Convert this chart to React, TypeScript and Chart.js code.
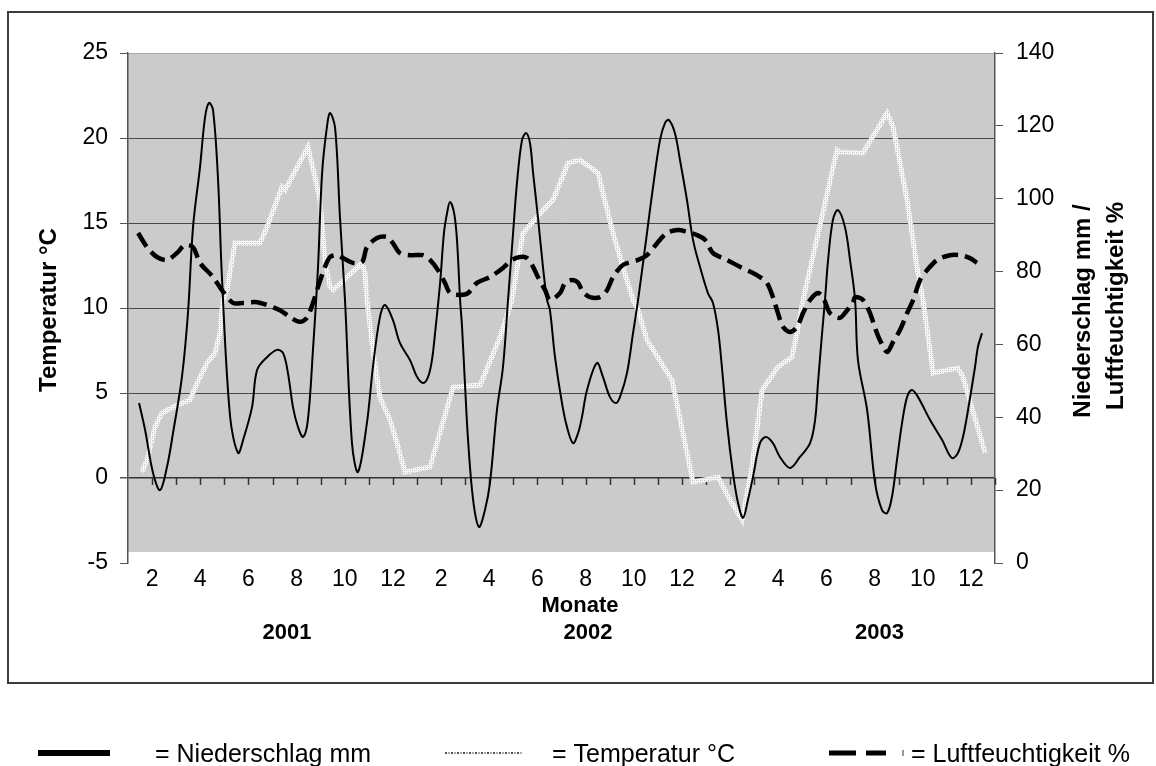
import React, { useEffect, useRef } from "react";
import { Chart, registerables } from "chart.js";

Chart.register(...registerables);

// Zeitachse in Monaten ab Januar 2001 (0 = Jahresbeginn 2001, 36 = Ende 2003)
const niederschlagMonat = [
  0.46, 0.71, 1.04, 1.33, 1.62, 1.87, 2.24, 2.49, 2.7, 2.99, 3.2, 3.36, 3.53, 3.74, 3.9, 4.24, 4.57, 4.78,
  5.15, 5.36, 5.77, 6.19, 6.44, 6.64, 6.85, 7.06, 7.27, 7.47, 7.68, 7.89, 8.06, 8.26, 8.39, 8.6, 8.8, 9.01,
  9.3, 9.55, 9.92, 10.17, 10.46, 10.67, 11.0, 11.29, 11.71, 12.0, 12.25, 12.46, 12.62, 12.75, 12.96, 13.12,
  13.25, 13.37, 13.54, 13.66, 13.79, 13.87, 13.99, 14.12, 14.33, 14.57, 14.82, 15.03, 15.32, 15.57, 15.78,
  15.99, 16.15, 16.36, 16.53, 16.69, 16.82, 17.02, 17.23, 17.4, 17.52, 17.73, 18.02, 18.23, 18.48, 18.69,
  18.85, 19.06, 19.47, 19.72, 20.01, 20.26, 20.43, 20.72, 20.97, 21.18, 21.55, 21.8, 22.09, 22.3, 22.46,
  22.71, 22.92, 23.21, 23.46, 23.75, 24.08, 24.29, 24.5, 24.66, 24.87, 25.12, 25.33, 25.54, 25.74, 25.95,
  26.24, 26.49, 26.78, 27.07, 27.49, 27.9, 28.32, 28.53, 28.65, 28.82, 28.94, 29.07, 29.27, 29.48, 29.77,
  29.98, 30.19, 30.31, 30.69, 31.02, 31.31, 31.52, 31.72, 31.93, 32.14, 32.35, 32.55, 32.8, 33.3, 33.8,
  34.21, 34.46, 34.67, 34.88, 35.17, 35.29, 35.46,
];
const niederschlagMm = [
  43.9, 36.5, 24.7, 20.0, 26.4, 35.7, 51.1, 68.6, 92.2, 108.7, 122.4, 126.3, 124.4, 105.1, 78.5, 40.1, 30.2, 33.8,
  42.8, 53.0, 56.5, 58.5, 57.6, 52.2, 42.8, 37.3, 34.6, 39.3, 58.5, 81.3, 107.1, 119.7, 123.5, 119.4, 95.0, 72.2,
  32.9, 25.0, 38.4, 53.8, 67.5, 70.8, 66.7, 60.4, 55.7, 51.1, 49.4, 51.1, 55.7, 63.1, 76.9, 90.6,
  96.1, 99.1, 96.1, 88.7, 72.2, 64.8, 49.4, 33.8, 17.3, 9.9, 14.5, 22.0, 42.0, 53.8, 72.2,
  90.6, 104.3, 116.1, 118.0, 115.3, 107.1, 95.0, 81.3, 72.2, 69.4, 56.5, 43.9, 37.3, 32.9, 35.7,
  40.1, 47.5, 54.9, 51.1, 45.6, 43.9, 45.6, 52.2, 63.1, 72.2, 90.6, 103.2, 116.1, 120.8, 121.6,
  118.0, 110.6, 99.6, 88.7, 81.3, 74.1, 71.4, 64.0, 53.8, 38.4, 24.7, 16.5, 12.4, 17.3, 23.6,
  32.9, 34.6, 32.9, 29.1, 26.1, 29.1, 32.9, 39.3, 49.4, 63.1, 72.2, 83.2, 94.2, 96.9, 92.2,
  83.2, 72.2, 55.7, 42.0, 22.0, 14.5, 13.7, 18.1, 28.3, 38.4, 45.6, 47.5, 45.6, 39.3, 33.8,
  28.8, 30.2, 34.6, 42.0, 53.8, 59.3, 63.1,
];

const temperaturMonat = [
  0.58, 0.79, 1.12, 1.41, 1.87, 2.57, 2.87, 3.28, 3.61, 3.82, 3.94, 4.11, 4.44, 5.48, 5.77, 6.39, 6.52, 7.47,
  7.76, 7.97, 8.18, 8.39, 8.51, 9.09, 9.72, 9.84, 9.92, 10.17, 10.46, 10.88, 11.17, 11.5, 12.54, 13.5, 14.62,
  15.45, 15.94, 16.28, 16.4, 16.98, 17.52, 17.65, 18.27, 18.77, 19.52, 19.72, 20.14, 20.55, 20.97, 21.18,
  21.55, 22.59, 23.46, 24.5, 25.0, 25.5, 25.91, 26.33, 26.99, 27.57, 27.78, 28.03, 29.44, 29.56, 30.52,
  31.52, 31.77, 32.35, 32.76, 33.01, 33.43, 34.46, 34.67, 35.59,
];
const temperaturC = [
  0.35, 1.06, 3.0, 3.82, 4.18, 4.59, 5.59, 6.76, 7.35, 8.53, 10.47, 11.06, 13.82, 13.82, 14.76, 17.12, 16.94, 19.47,
  17.71, 16.35, 12.82, 11.24, 11.06, 11.82, 12.65, 12.06, 10.47, 7.53, 4.76, 3.41, 2.06, 0.35, 0.65, 5.35, 5.47,
  8.29, 10.47, 13.41, 14.41, 15.35, 16.18, 16.35, 18.53, 18.71, 17.94, 16.76, 14.41, 12.41, 10.47, 9.88,
  8.12, 5.76, -0.24, 0.06, -1.29, -2.47, 0.65, 5.18, 6.53, 7.12, 8.53, 10.47, 19.29, 19.18, 19.12,
  21.47, 20.65, 16.35, 12.41, 10.47, 6.18, 6.47, 5.94, 1.47,
];

const feuchteMonat = [
  0.42, 0.79, 1.2, 1.62, 2.03, 2.37, 2.7, 2.99, 3.53, 3.9, 4.36, 4.78, 5.36, 5.77, 6.31, 6.73, 7.14, 7.43,
  7.68, 7.89, 8.18, 8.39, 8.68, 8.93, 9.34, 9.72, 9.92, 10.34, 10.75, 11.0, 11.29, 11.71, 12.25, 12.54, 12.87,
  13.16, 13.37, 13.79, 14.12, 14.49, 15.03, 15.57, 15.94, 16.28, 16.57, 16.82, 17.02, 17.32, 17.52, 17.94,
  18.15, 18.44, 18.69, 18.89, 19.18, 19.6, 19.89, 20.14, 20.55, 21.18, 21.55, 21.97, 22.38, 22.84, 23.21,
  23.63, 23.96, 24.29, 24.87, 25.41, 25.95, 26.24, 26.53, 26.78, 26.95, 27.2, 27.49, 27.78, 28.03, 28.32,
  28.65, 28.86, 29.15, 29.56, 29.86, 30.1, 30.19, 30.52, 30.81, 31.02, 31.22, 31.52, 31.77, 32.06, 32.35,
  32.6, 32.89, 33.18, 33.6, 34.13, 34.55, 34.96, 35.25,
];
const feuchteProzent = [
  90.6, 86.7, 84.0, 83.2, 85.1, 87.3, 86.7, 82.4, 78.5, 74.9, 71.4, 71.4, 71.6, 70.8, 69.4, 67.5, 66.2, 67.3,
  71.4, 75.8, 81.3, 84.0, 84.5, 83.7, 82.4, 82.6, 86.7, 89.2, 89.5, 87.8, 85.1, 84.5, 84.5, 83.2, 80.4,
  76.9, 74.1, 73.6, 74.1, 76.9, 78.5, 81.0, 83.2, 84.0, 83.7, 81.3, 78.5, 74.9, 72.2, 74.1,
  76.9, 77.7, 76.9, 74.4, 73.0, 73.0, 74.9, 78.5, 81.8, 83.2, 84.5, 87.8, 90.6, 91.4, 90.9,
  90.0, 88.7, 85.1, 83.2, 81.3, 79.6, 78.5, 76.9, 73.0, 69.4, 64.8, 63.4, 64.8, 68.6, 72.2,
  74.1, 73.0, 68.6, 67.3, 69.4, 71.4, 73.0, 72.2, 68.6, 64.5, 61.2, 57.9, 60.7, 64.0, 68.6,
  72.2, 77.7, 80.4, 83.2, 84.5, 84.5, 83.7, 82.4,
];

// Achsenbereiche und Beschriftungen
const temperaturAchse = { min: -5, max: 25, step: 5 };
const rechteAchse = { min: 0, max: 140, step: 20 };
const monateGesamt = 36;
const jahre = ["2001", "2002", "2003"];
const jahrMitteMonat = [6.6, 19.1, 31.2];

const titelLinks = "Temperatur °C";
const titelRechts = ["Niederschlag mm /", "Luftfeuchtigkeit %"];
const titelX = "Monate";
const legende = ["= Niederschlag mm", "= Temperatur °C", "= Luftfeuchtigkeit %"];

const FONT = "'Liberation Sans', Arial, sans-serif";

const toPoints = (xs: number[], ys: number[]) => xs.map((x, i) => ({ x, y: ys[i] }));

function makeDottedPattern(ctx: CanvasRenderingContext2D) {
  const pc = document.createElement("canvas");
  pc.width = 4;
  pc.height = 4;
  const g = pc.getContext("2d")!;
  g.fillStyle = "#f6f6f6";
  g.fillRect(0, 0, 4, 4);
  g.fillStyle = "#bdbdbd";
  g.fillRect(0, 0, 1, 1);
  g.fillRect(2, 2, 1, 1);
  g.fillStyle = "#dcdcdc";
  g.fillRect(2, 0, 1, 1);
  g.fillRect(0, 2, 1, 1);
  return ctx.createPattern(pc, "repeat")!;
}

const decorPlugin = {
  id: "decor",
  beforeDraw(chart: any) {
    const { ctx, chartArea: a } = chart;
    ctx.save();
    ctx.fillStyle = "#ffffff";
    ctx.fillRect(0, 0, chart.width, chart.height);
    // grauer Hintergrund der Zeichenfläche
    ctx.fillStyle = "#cbcbcb";
    ctx.fillRect(a.left, a.top, a.right - a.left, a.bottom - a.top - 11);
    // Rahmen um das Diagramm
    ctx.strokeStyle = "#3c3c3c";
    ctx.lineWidth = 2;
    ctx.strokeRect(8, 12, 1145, 671);
    ctx.restore();
  },
  beforeDatasetsDraw(chart: any) {
    const { ctx } = chart;
    const xs = chart.scales.x;
    const ys = chart.scales.y;
    const y0 = ys.getPixelForValue(0);
    ctx.save();
    ctx.strokeStyle = "#333";
    ctx.lineWidth = 1.5;
    for (let k = 1; k <= monateGesamt; k++) {
      const px = Math.round(xs.getPixelForValue(k)) + 0.5;
      ctx.beginPath();
      ctx.moveTo(px, y0);
      ctx.lineTo(px, y0 + 7);
      ctx.stroke();
    }
    ctx.restore();
  },
  afterDraw(chart: any) {
    const { ctx, chartArea: a } = chart;
    const xs = chart.scales.x;
    const midY = (a.top + a.bottom) / 2;
    ctx.save();
    ctx.fillStyle = "#000";

    // Achsentitel links
    ctx.font = `bold 24px ${FONT}`;
    ctx.textAlign = "center";
    ctx.textBaseline = "alphabetic";
    ctx.save();
    ctx.translate(56, midY + 2);
    ctx.rotate(-Math.PI / 2);
    ctx.fillText(titelLinks, 0, 0);
    ctx.restore();

    // Achsentitel rechts (zweizeilig)
    ctx.save();
    ctx.translate(1090, midY + 3);
    ctx.rotate(-Math.PI / 2);
    ctx.fillText(titelRechts[0], 0, 0);
    ctx.restore();
    ctx.save();
    ctx.translate(1123, midY - 2);
    ctx.rotate(-Math.PI / 2);
    ctx.fillText(titelRechts[1], 0, 0);
    ctx.restore();

    // Titel der x-Achse und Jahreszahlen
    ctx.font = `bold 22px ${FONT}`;
    ctx.textBaseline = "middle";
    ctx.fillText(titelX, 580, 606);
    jahre.forEach((j, i) => {
      ctx.fillText(j, xs.getPixelForValue(jahrMitteMonat[i]), 633);
    });

    // Legende unterhalb des Rahmens
    const ly = 753;
    ctx.strokeStyle = "#000";
    ctx.lineWidth = 6;
    ctx.beginPath();
    ctx.moveTo(38, ly);
    ctx.lineTo(110, ly);
    ctx.stroke();

    for (let x = 445; x < 518; x += 6) {
      ctx.fillStyle = "#555";
      ctx.fillRect(x, ly - 1, 2, 2);
      ctx.fillStyle = "#aaa";
      ctx.fillRect(x + 3, ly - 1, 2, 2);
    }

    ctx.strokeStyle = "#000";
    ctx.lineWidth = 5;
    ctx.beginPath();
    ctx.moveTo(829, ly);
    ctx.lineTo(856, ly);
    ctx.moveTo(866, ly);
    ctx.lineTo(886, ly);
    ctx.stroke();
    ctx.lineWidth = 1.5;
    ctx.strokeStyle = "#777";
    ctx.beginPath();
    ctx.moveTo(903, ly - 3);
    ctx.lineTo(903, ly + 3);
    ctx.stroke();

    ctx.fillStyle = "#000";
    ctx.font = `25px ${FONT}`;
    ctx.textAlign = "left";
    ctx.textBaseline = "alphabetic";
    ctx.fillText(legende[0], 155, 762);
    ctx.fillText(legende[1], 552, 762);
    ctx.fillText(legende[2], 911, 762);
    ctx.restore();
  },
};

export default function App() {
  const canvasRef = useRef<HTMLCanvasElement | null>(null);

  useEffect(() => {
    const canvas = canvasRef.current;
    if (!canvas) return;
    const ctx = canvas.getContext("2d")!;
    const dotted = makeDottedPattern(ctx);

    const tickFont = { family: FONT, size: 23 };

    const chart = new Chart(ctx, {
      type: "line",
      data: {
        datasets: [
          {
            label: "Niederschlag mm",
            data: toPoints(niederschlagMonat, niederschlagMm),
            yAxisID: "y1",
            borderColor: "#000",
            borderWidth: 2,
            pointRadius: 0,
            tension: 0.35,
            fill: false,
          },
          {
            label: "Luftfeuchtigkeit %",
            data: toPoints(feuchteMonat, feuchteProzent),
            yAxisID: "y1",
            borderColor: "#000",
            borderWidth: 4.5,
            borderDash: [16, 7],
            pointRadius: 0,
            tension: 0.3,
            fill: false,
          },
          {
            label: "Temperatur °C",
            data: toPoints(temperaturMonat, temperaturC),
            yAxisID: "y",
            borderColor: dotted as any,
            borderWidth: 5,
            pointRadius: 0,
            tension: 0,
            fill: false,
          },
        ],
      },
      options: {
        animation: false,
        responsive: false,
        devicePixelRatio: 1,
        layout: { padding: { top: 53, left: 0, right: 0, bottom: 0 } },
        plugins: {
          legend: { display: false },
          tooltip: { enabled: false },
        },
        scales: {
          x: {
            type: "linear",
            min: 0,
            max: monateGesamt,
            grid: { display: false },
            border: { display: false },
            ticks: {
              stepSize: 1,
              autoSkip: false,
              maxRotation: 0,
              padding: -5,
              color: "#000",
              font: tickFont,
              callback: (v: any) => {
                const m = (Math.round(Number(v)) % 12) + 1;
                return Number(v) < monateGesamt && m % 2 === 0 ? String(m) : "";
              },
            },
            afterFit: (s: any) => {
              s.height = 203;
            },
          },
          y: {
            position: "left",
            min: temperaturAchse.min,
            max: temperaturAchse.max,
            grid: {
              color: (c: any) => {
                const v = c.tick && c.tick.value;
                if (v === temperaturAchse.max) return "#a9a9a9";
                if (v === temperaturAchse.min) return "rgba(0,0,0,0)";
                if (v === 0) return "#333";
                return "#4a4a4a";
              },
              lineWidth: (c: any) => (c.tick && c.tick.value === 0 ? 1.5 : 1),
              tickColor: "#555",
              tickLength: 8,
            },
            border: { display: true, color: "#555", width: 1.5 },
            ticks: {
              stepSize: temperaturAchse.step,
              padding: 12,
              color: "#000",
              font: tickFont,
            },
            afterFit: (s: any) => {
              s.width = 128;
            },
          },
          y1: {
            position: "right",
            min: rechteAchse.min,
            max: rechteAchse.max,
            grid: {
              display: true,
              drawOnChartArea: false,
              drawTicks: true,
              tickLength: 8,
              tickColor: "#555",
            },
            border: { display: true, color: "#555", width: 1.5 },
            ticks: {
              stepSize: rechteAchse.step,
              padding: 13,
              color: "#000",
              font: tickFont,
            },
            afterFit: (s: any) => {
              s.width = 161;
            },
          },
        },
      },
      plugins: [decorPlugin],
    });

    return () => chart.destroy();
  }, []);

  return (
    <div style={{ position: "fixed", left: 0, top: 0, width: 1156, height: 766, background: "#fff" }}>
      <canvas ref={canvasRef} width={1156} height={766} style={{ display: "block" }} />
    </div>
  );
}
